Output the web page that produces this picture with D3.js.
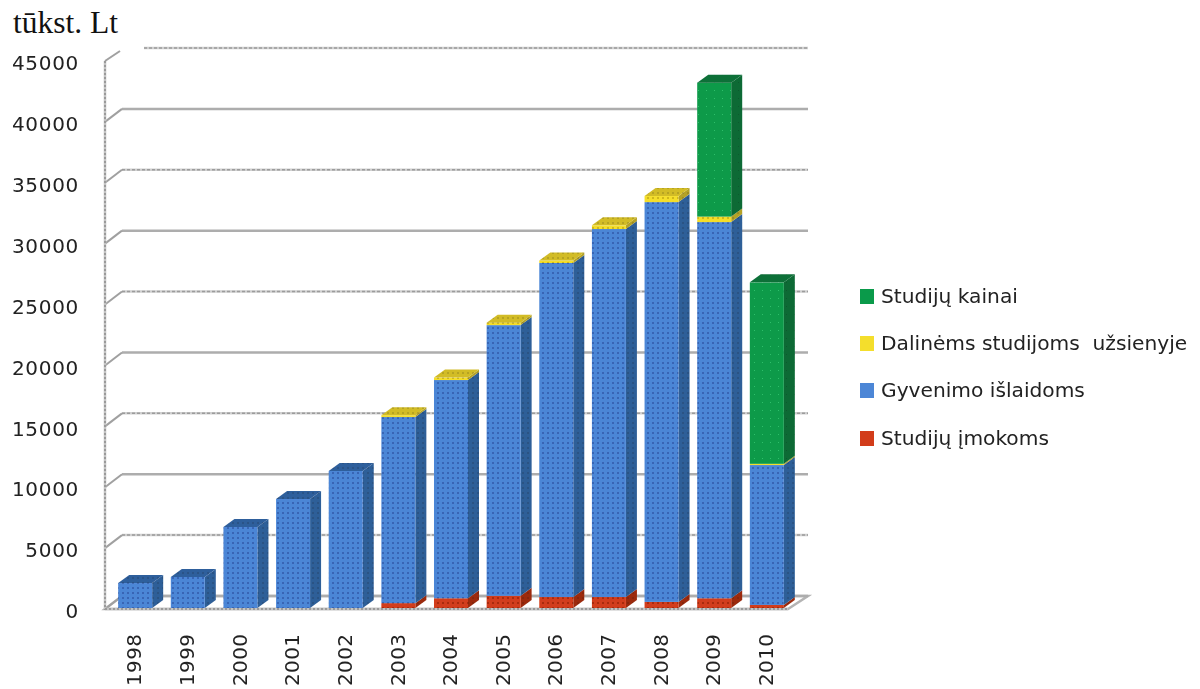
<!DOCTYPE html>
<html><head><meta charset="utf-8">
<script src="https://cdn.jsdelivr.net/npm/d3@7"></script>
<style>html,body{margin:0;padding:0;background:#fff;overflow:hidden}svg{display:block}</style>
</head><body><svg id="c" width="1200" height="689"></svg>
<script>
const years=["1998","1999","2000","2001","2002","2003","2004","2005","2006","2007","2008","2009","2010"];
const imokoms=[0,0,0,0,0,400,800,1000,900,900,500,800,250];
const islaidoms=[2050,2550,6650,8950,11250,15280,17920,22230,27430,30220,32830,30890,11490];
const daline=[0,0,0,0,0,150,200,200,200,300,500,450,100];
const kainai=[0,0,0,0,0,0,0,0,0,0,0,11000,14900];
const yTicks=[0,5000,10000,15000,20000,25000,30000,35000,40000,45000];
const legendLabels=["Studijų kainai","Dalinėms studijoms  užsienyje","Gyvenimo išlaidoms","Studijų įmokoms"];
const seriesKeys=["imokoms","islaidoms","daline","kainai"];
const colors={imokoms:["#d23c1a","#9c2c10","#b5361a","#8e1f08"],
 islaidoms:["#4c86d6","#2f5f98","#2f5f9c","#2b4f9e"],
 daline:["#f4de2c","#b5a226","#d2bc28","#b89c10"],
 kainai:["#0a9a4a","#0a6b36","#0a6f38","#3ccf7a"]};

const svg=d3.select("#c");
const defs=svg.append("defs");
seriesKeys.forEach(k=>{
 [0,1,2].forEach(f=>{
  const s=k==="kainai"?8:5;
  const p=defs.append("pattern").attr("id",k+f).attr("width",s).attr("height",s).attr("patternUnits","userSpaceOnUse");
  p.append("rect").attr("width",s).attr("height",s).attr("fill",colors[k][f]);
  p.append("rect").attr("x",2).attr("y",2).attr("width",k==="kainai"?1:2).attr("height",k==="kainai"?1:2)
   .attr("fill",f===0?colors[k][3]:d3.color(colors[k][f]).darker(.7)).attr("opacity",k==="kainai"?.7:.6);
 });
});
const soft=defs.append("filter").attr("id","soft").attr("x","-5%").attr("y","-5%").attr("width","110%").attr("height","110%");
soft.append("feGaussianBlur").attr("stdDeviation",.45);

const x0=105,floorY=609,plotTop=61,wallDx=17,wallDy=13,floorRight=788,backRight=808;
const y=d3.scaleLinear().domain([0,45000]).range([floorY,plotTop]);
const x=d3.scaleBand().domain(years).range([105,797]).paddingInner(.354).paddingOuter(.25);
const dx=11,dy=8,baseShift=-1;
const g=svg.append("g").attr("filter","url(#soft)");

// title
svg.append("text").attr("x",13).attr("y",33).attr("font-family","'Liberation Serif'").attr("font-size",31.5).attr("fill","#111").text("tūkst. Lt");

// floor
g.append("path").attr("fill","#fff").attr("stroke","#b4b4b4").attr("stroke-width",2.5)
 .attr("d",`M${x0},${floorY}L${floorRight},${floorY}L${backRight},${floorY-wallDy}L${x0+wallDx},${floorY-wallDy}Z`);
// grid
yTicks.forEach(t=>{
 const dash=(t/5000)%2===1;
 const top=t===45000;
 const x1=top?144:x0+wallDx, yy=y(t)-wallDy;
 g.append("line").attr("x1",x1).attr("x2",backRight).attr("y1",yy).attr("y2",yy)
  .attr("stroke",dash?"#cfcfcf":"#adadad").attr("stroke-width",2.5);
 if(dash) g.append("line").attr("x1",x1).attr("x2",backRight).attr("y1",yy).attr("y2",yy)
  .attr("stroke","#9c9c9c").attr("stroke-width",1.5).attr("stroke-dasharray","3 2");
 g.append("line").attr("x1",x0).attr("x2",top?x0+15:x0+wallDx).attr("y1",y(t)).attr("y2",y(t)-(top?10:wallDy))
  .attr("stroke","#a0a0a0").attr("stroke-width",2);
});
[[x0,plotTop,x0,floorY+1],[x0,floorY,floorRight,floorY]].forEach(c=>{
 g.append("line").attr("x1",c[0]).attr("y1",c[1]).attr("x2",c[2]).attr("y2",c[3]).attr("stroke","#c4c4c4").attr("stroke-width",2.5);
 g.append("line").attr("x1",c[0]).attr("y1",c[1]).attr("x2",c[2]).attr("y2",c[3]).attr("stroke","#8c8c8c").attr("stroke-width",1.5).attr("stroke-dasharray","2 2");
});

// bars
const table=years.map((yr,i)=>({year:yr,imokoms:imokoms[i],islaidoms:islaidoms[i],daline:daline[i],kainai:kainai[i]}));
const stacked=d3.stack().keys(seriesKeys)(table);
const barG=g.append("g");
years.forEach((yr,i)=>{
 const L=x(yr),w=x.bandwidth();
 const by=v=>y(v)+baseShift;
 const segs=stacked.map(s=>({k:s.key,a:s[i][0],b:s[i][1]})).filter(s=>s.b>s.a);
 const bg=barG.append("g");
 segs.forEach(s=>{
  bg.append("path").attr("fill",`url(#${s.k}1)`)
   .attr("d",`M${L+w},${by(s.a)}L${L+w+dx},${by(s.a)-dy}L${L+w+dx},${by(s.b)-dy}L${L+w},${by(s.b)}Z`);
  bg.append("rect").attr("x",L).attr("width",w).attr("y",by(s.b)).attr("height",by(s.a)-by(s.b)).attr("fill",`url(#${s.k}0)`);
 });
 const t=segs[segs.length-1];
 bg.append("path").attr("fill",`url(#${t.k}2)`)
  .attr("d",`M${L},${by(t.b)}L${L+dx},${by(t.b)-dy}L${L+w+dx},${by(t.b)-dy}L${L+w},${by(t.b)}Z`);
});

// axis labels
const font="'DejaVu Sans'";
const txt=svg.append("g").attr("filter","url(#soft)").attr("fill","#222").attr("font-family",font);
yTicks.forEach(t=>{
 txt.append("text").attr("x",79).attr("y",y(t)+2).attr("dy",".36em").attr("text-anchor","end")
  .attr("font-size",20).attr("letter-spacing",.7).text(t);
});
years.forEach(yr=>{
 const cx=x(yr)+x.bandwidth()/2-1;
 txt.append("text").attr("transform",`translate(${cx},686) rotate(-90)`).attr("dy",".36em")
  .attr("font-size",20).attr("letter-spacing",.4).text(yr);
});
// legend
const lRows=[296,343,390,438];
const lKeys=["kainai","daline","islaidoms","imokoms"];
legendLabels.forEach((l,i)=>{
 svg.append("rect").attr("x",860).attr("y",lRows[i]-7).attr("width",14).attr("height",15).attr("fill",colors[lKeys[i]][0]);
 txt.append("text").attr("x",881).attr("y",lRows[i]).attr("dy",".36em").attr("font-size",20.2).style("white-space","pre").text(l);
});
</script></body></html>
